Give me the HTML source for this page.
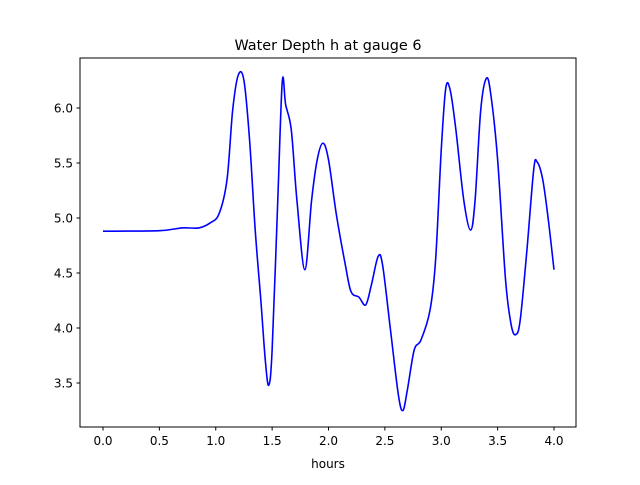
<!DOCTYPE html>
<html><head><meta charset="utf-8"><style>
body{margin:0;background:#fff;}
svg text{font-family:"DejaVu Sans","Liberation Sans",sans-serif;}
</style></head><body>
<svg id="chart" width="640" height="480" xmlns="http://www.w3.org/2000/svg">
<rect width="640" height="480" fill="#fff"/>
<text x="328" y="50" text-anchor="middle" font-size="14.4">Water Depth h at gauge 6</text>
<g id="plot"></g>
<rect x="80" y="58" width="496" height="369" fill="none" stroke="#000" stroke-width="1"/>
<text x="328" y="468" text-anchor="middle" font-size="12">hours</text>
</svg>
<script>
const times=[0,0.5,0.7,0.85,0.95,1.03,1.1,1.15,1.2,1.25,1.3,1.35,1.4,1.44,1.47,1.5,1.55,1.59,1.62,1.67,1.72,1.79,1.85,1.9,1.95,2.0,2.07,2.15,2.2,2.27,2.33,2.38,2.44,2.48,2.55,2.62,2.66,2.7,2.76,2.82,2.9,2.95,3.0,3.04,3.08,3.13,3.2,3.26,3.3,3.35,3.4,3.44,3.5,3.57,3.62,3.66,3.7,3.76,3.82,3.85,3.9,3.95,4.0];
const depth=[4.88,4.885,4.91,4.91,4.955,5.04,5.35,5.98,6.3,6.25,5.71,4.89,4.25,3.7,3.48,3.8,5.16,6.24,6.03,5.8,5.16,4.53,5.16,5.53,5.68,5.53,5.03,4.57,4.33,4.28,4.21,4.39,4.65,4.57,3.98,3.39,3.25,3.44,3.8,3.89,4.16,4.62,5.62,6.18,6.16,5.8,5.16,4.89,5.16,5.98,6.27,6.12,5.53,4.44,4.03,3.94,4.07,4.71,5.44,5.51,5.35,4.98,4.53];
const xTicks=[0.0,0.5,1.0,1.5,2.0,2.5,3.0,3.5,4.0];
const yTicks=[3.5,4.0,4.5,5.0,5.5,6.0];
const X=t=>103+t*112.75;
const Y=h=>108+(6.0-h)*110;
const g=document.getElementById('plot');
const NS='http://www.w3.org/2000/svg';
function mk(tag,attrs){const e=document.createElementNS(NS,tag);for(const k in attrs)e.setAttribute(k,attrs[k]);g.appendChild(e);return e;}
xTicks.forEach(v=>{
 const l=mk('line',{x1:X(v),x2:X(v),y1:427,y2:430.5,stroke:'#000'});
 
 
 const t=mk('text',{x:X(v),y:445,'text-anchor':'middle','font-size':'12'});
 t.textContent=v.toFixed(1);
 
 
});
yTicks.forEach(v=>{
 const l=mk('line',{x1:76.5,x2:80,y1:Y(v),y2:Y(v),stroke:'#000'});
 
 
 const t=mk('text',{x:73,y:Y(v)+4.5,'text-anchor':'end','font-size':'12'});
 t.textContent=v.toFixed(1);
 
 
});
const P=times.map((t,i)=>[X(t),Y(depth[i])]);
let d='M'+P[0][0]+','+P[0][1];
for(let i=0;i<P.length-1;i++){
 const p0=P[Math.max(0,i-1)],p1=P[i],p2=P[i+1],p3=P[Math.min(P.length-1,i+2)];
 const c1=[p1[0]+(p2[0]-p0[0])/6,p1[1]+(p2[1]-p0[1])/6];
 const c2=[p2[0]-(p3[0]-p1[0])/6,p2[1]-(p3[1]-p1[1])/6];
 d+=` C${c1[0]},${c1[1]} ${c2[0]},${c2[1]} ${p2[0]},${p2[1]}`;
}
const line=mk('path',{d:d,fill:'none',stroke:'#0000ff','stroke-width':'1.6'});


</script>
</body></html>
